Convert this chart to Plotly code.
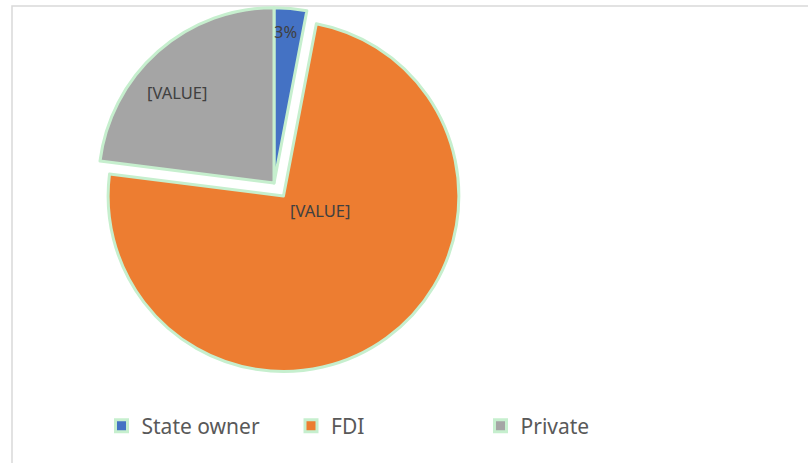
import plotly.graph_objects as go

# ---- data ----
categories = ["State owner", "FDI", "Private"]
shares = [3, 74, 23]
slice_labels = ["3%", "[VALUE]", "[VALUE]"]
colors = ["#4472C4", "#ED7D31", "#A5A5A5"]
explode = [0, 0.092, 0]

# page is shifted up by OFF px so the pie's pull allowance fits above the window
OFF = 12
W, H = 808, 463 + OFF


def fy(page_y):
    """page pixel y -> paper fraction"""
    return 1 - (page_y + OFF) / H


# pie geometry in page pixels: centre and half box (radius * (1 + max pull))
cx, cy, half = 274.0, 183.0, 191.5

fig = go.Figure(
    go.Pie(
        labels=categories,
        values=shares,
        sort=False,
        direction="clockwise",
        rotation=0,
        pull=explode,
        marker=dict(colors=colors, line=dict(color="#c6efce", width=3)),
        textinfo="none",
        hoverinfo="label+percent",
        domain=dict(x=[(cx - half) / W, (cx + half) / W],
                    y=[fy(cy + half), fy(cy - half)]),
    )
)

# data label placements (page pixels), as Excel placed them
label_pos = [(285, 32), (320, 211), (177, 92)]
for txt, (px, py) in zip(slice_labels, label_pos):
    fig.add_annotation(
        x=px / W, y=fy(py), xref="paper", yref="paper",
        text=txt, showarrow=False,
        font=dict(family="Noto Sans", size=16.5, color="#404040"),
        xanchor="center", yanchor="middle",
    )

# chart frame
fig.add_shape(
    type="rect", xref="paper", yref="paper",
    x0=12 / W, x1=1.02, y0=-0.02, y1=fy(6),
    line=dict(color="#d9d9d9", width=1.5), fillcolor="rgba(0,0,0,0)",
    layer="below",
)

fig.update_layout(
    width=W, height=H,
    margin=dict(l=0, r=0, t=0, b=0),
    paper_bgcolor="white", plot_bgcolor="white",
    showlegend=True,
    legend=dict(
        orientation="h",
        x=101.5 / W, xanchor="left",
        y=fy(426), yanchor="middle",
        font=dict(family="Noto Sans", size=21, color="#595959"),
        entrywidth=144.5, entrywidthmode="pixels",
        itemwidth=30,
        bgcolor="rgba(0,0,0,0)",
    ),
)

fig.write_html(
    "out.html",
    config={"displayModeBar": False},
    post_script="document.body.style.margin='-%dpx 0 0 0';" % OFF,
)
